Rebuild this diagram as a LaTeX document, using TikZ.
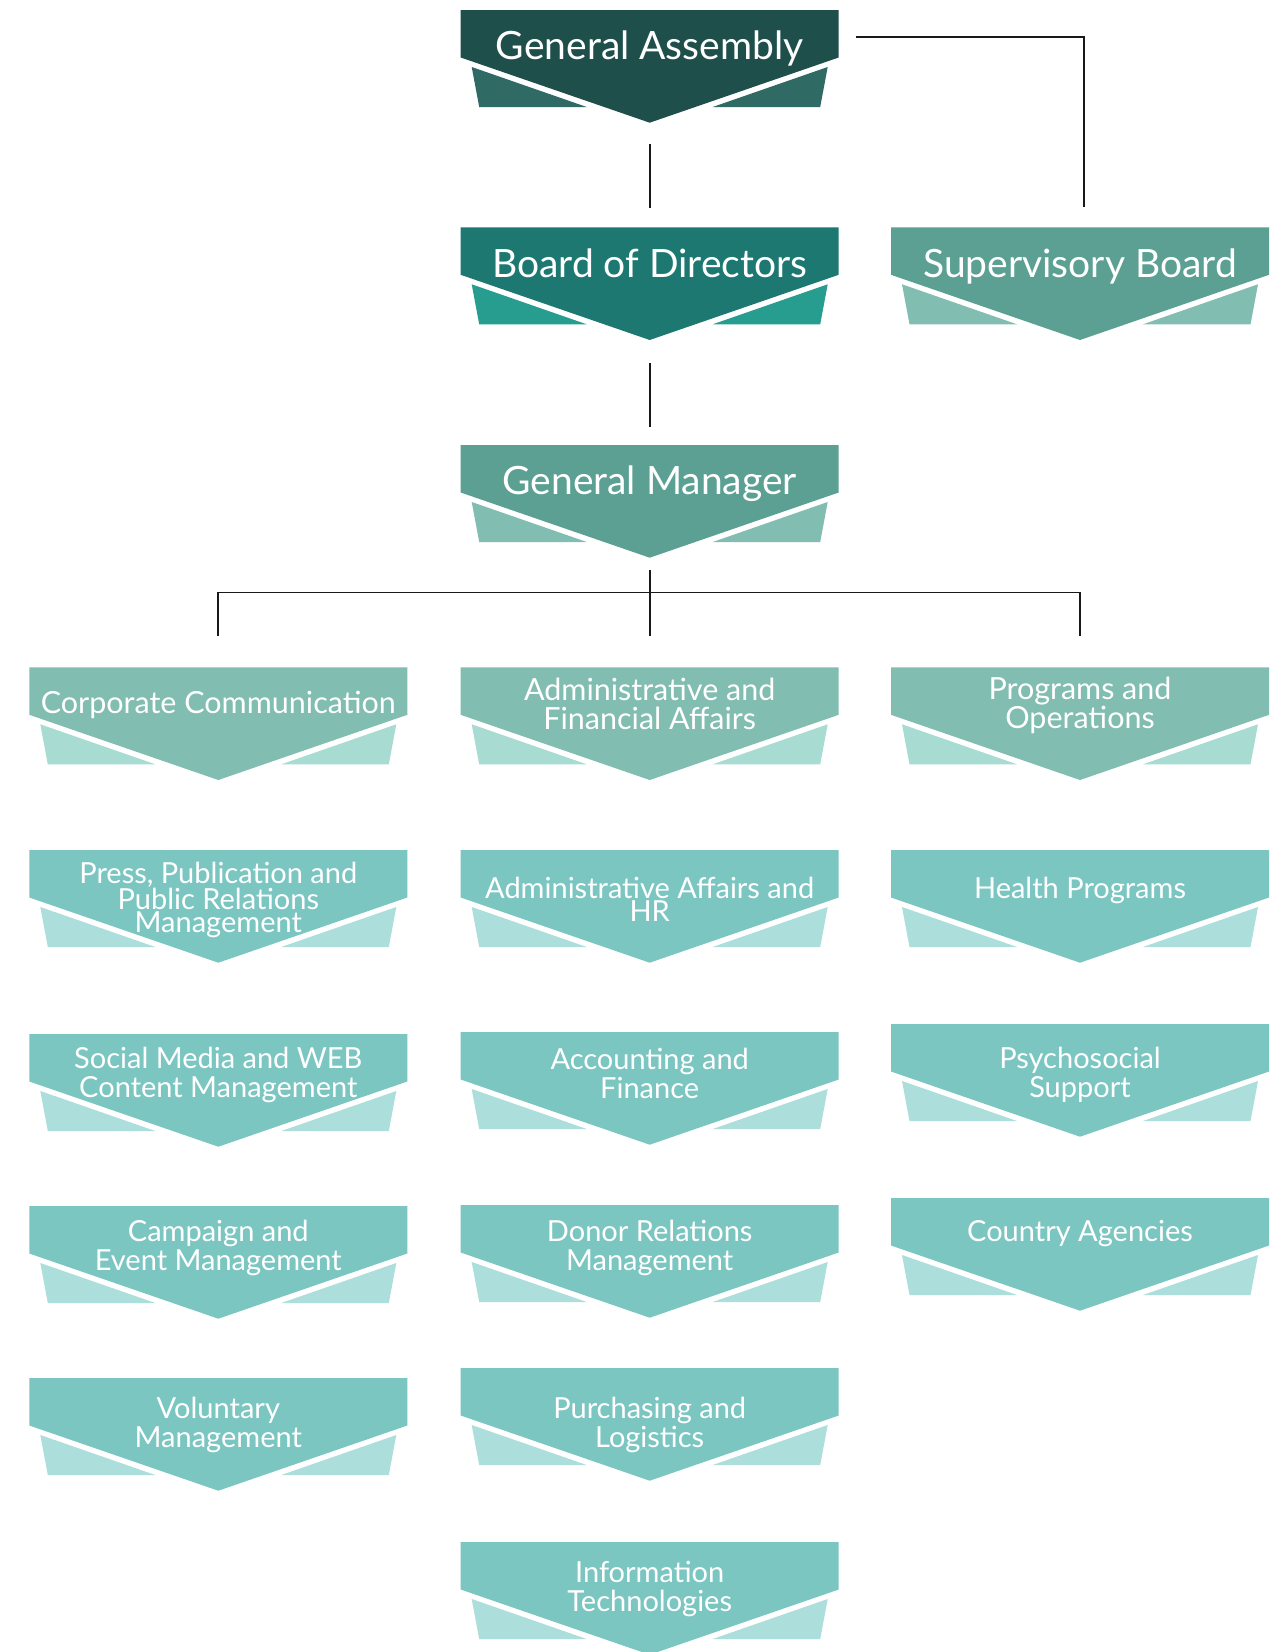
\documentclass[tikz,border=0pt]{standalone}
\usepackage{fontspec}
\setmainfont{Lato}
\usetikzlibrary{calc}
\definecolor{gaM}{HTML}{1F4F4B}\definecolor{gaW}{HTML}{2F6B64}
\definecolor{bdM}{HTML}{1E7872}\definecolor{bdW}{HTML}{279D90}
\definecolor{gmM}{HTML}{5BA092}\definecolor{gmW}{HTML}{81BDB0}
\definecolor{dpM}{HTML}{81BDB0}\definecolor{dpW}{HTML}{A8DCD3}
\definecolor{unM}{HTML}{7CC6C2}\definecolor{unW}{HTML}{ACDEDC}
\tikzset{
  conn/.style={draw=black!90, line width=1.7pt},
  lblbig/.style={text=white, align=center, inner sep=0pt, font=\fontsize{39}{40}\selectfont},
  lbldept/.style={text=white, align=center, inner sep=0pt, font=\fontsize{30.5}{29}\selectfont},
  lbl/.style={text=white, align=center, inner sep=0pt, font=\fontsize{29}{29}\selectfont},
  lbltight/.style={text=white, align=center, inner sep=0pt, font=\fontsize{29}{23}\selectfont},
}
% #1 name, #2 left, #3 top, #4 main colour, #5 wing colour, #6 text y, #7 label style, #8 text
\newcommand\chevbox[8]{%
  \fill[#5] (#2+11,#3+57) -- (#2+18.5,#3+97) -- (#2+126,#3+97) -- cycle;
  \fill[#5] (#2+367,#3+57) -- (#2+359.5,#3+97) -- (#2+252,#3+97) -- cycle;
  \fill[#4] (#2,#3) -- (#2+378,#3) -- (#2+378,#3+47.5) -- (#2+189,#3+112.7) -- (#2,#3+47.5) -- cycle;
  \coordinate (#1-top) at (#2+189,#3);
  \coordinate (#1-tip) at (#2+189,#3+112.7);
  \node[#7] (#1) at (#2+189,#6) {#8};
}
\begin{document}
\begin{tikzpicture}[x=1pt,y=-1pt]
\fill[white] (0,0) rectangle (1287,1652);
\useasboundingbox (0,0) rectangle (1287,1652);
\def\cL{29.3}\def\cC{460.7}\def\cR{891}
\chevbox{ga}{\cC}{10}{gaM}{gaW}{48}{lblbig}{General Assembly}
\chevbox{bod}{\cC}{227.3}{bdM}{bdW}{263}{lblbig}{Board of Directors}
\chevbox{sb}{\cR}{227.3}{gmM}{gmW}{266}{lblbig}{Supervisory Board}
\chevbox{gm}{\cC}{445}{gmM}{gmW}{484}{lblbig}{General Manager}
\chevbox{cc}{\cL}{667.3}{dpM}{dpW}{705}{lbldept}{Corporate Communication}
\chevbox{af}{\cC}{667.3}{dpM}{dpW}{704}{lbldept}{Administrative and\\Financial Affairs}
\chevbox{po}{\cR}{667.3}{dpM}{dpW}{705}{lbldept}{Programs and\\Operations}
\chevbox{press}{\cL}{850}{unM}{unW}{900}{lbltight}{Press, Publication and\\Public Relations\\Management}
\chevbox{ahr}{\cC}{850}{unM}{unW}{899}{lbltight}{Administrative Affairs and\\HR}
\chevbox{health}{\cR}{850}{unM}{unW}{890}{lbl}{Health Programs}
\chevbox{social}{\cL}{1034}{unM}{unW}{1075}{lbl}{Social Media and WEB\\Content Management}
\chevbox{acc}{\cC}{1032}{unM}{unW}{1073}{lbl}{Accounting and\\Finance}
\chevbox{psy}{\cR}{1024}{unM}{unW}{1075}{lbl}{Psychosocial\\Support}
\chevbox{camp}{\cL}{1206}{unM}{unW}{1248}{lbl}{Campaign and\\Event Management}
\chevbox{donor}{\cC}{1205}{unM}{unW}{1248}{lbl}{Donor Relations\\Management}
\chevbox{country}{\cR}{1198}{unM}{unW}{1234}{lbl}{Country Agencies}
\chevbox{vol}{\cL}{1378}{unM}{unW}{1425}{lbl}{Voluntary\\Management}
\chevbox{purch}{\cC}{1368}{unM}{unW}{1425}{lbl}{Purchasing and\\Logistics}
\chevbox{it}{\cC}{1542}{unM}{unW}{1589}{lbl}{Information\\Technologies}
% connectors
\draw[conn] ($(ga-tip)+(0,21.3)$) -- ($(bod-top)+(0,-19.6)$);
\draw[conn] ($(bod-tip)+(0,23)$) -- ($(gm-top)+(0,-18.5)$);
\coordinate (gaR) at (855.7,36.7);
\draw[conn] (gaR) -| ($(sb-top)+(4,-20)$);
\coordinate (split) at ($(gm-tip)+(0,34.8)$);
\draw[conn] ($(gm-tip)+(0,12.3)$) -- ($(af-top)+(0,-31)$);
\draw[conn] ($(cc-top)+(0,-31)$) |- (split) -| ($(po-top)+(0,-31)$);
\end{tikzpicture}
\end{document}
